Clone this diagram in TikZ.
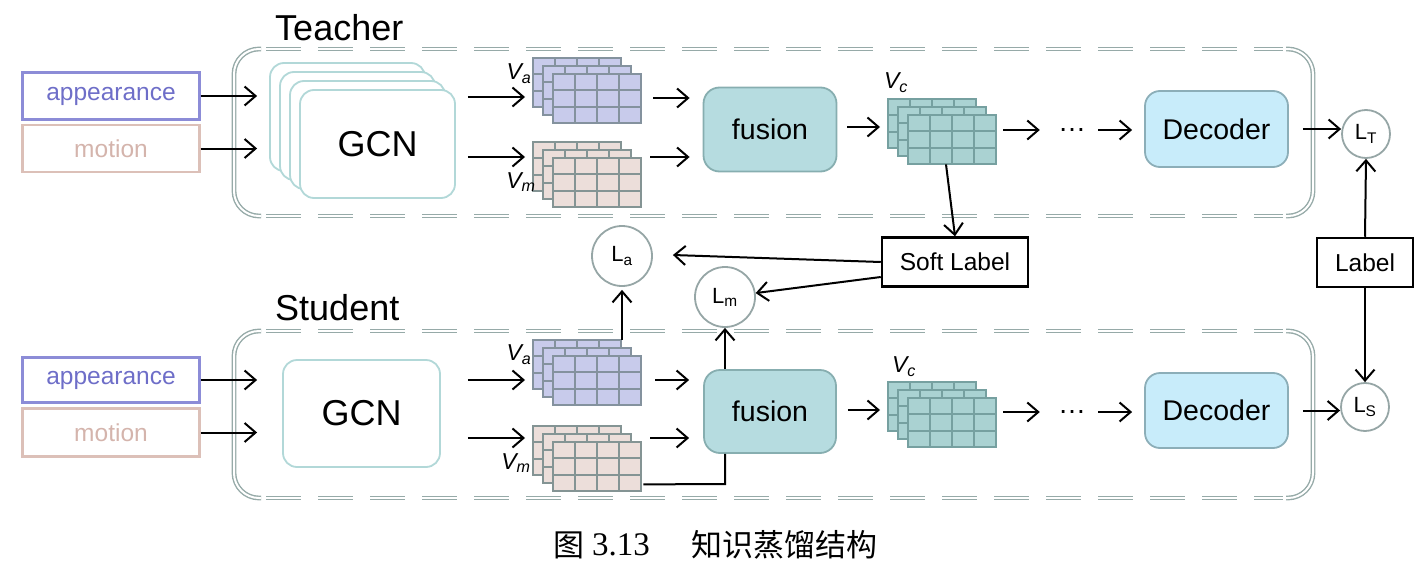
\documentclass[tikz,border=0pt]{standalone}
\usepackage{fontspec}
\setmainfont{Liberation Sans}
\newfontfamily\cjk{Noto Sans CJK SC}
\newfontfamily\serifnum{Liberation Serif}
\usetikzlibrary{arrows.meta,calc}
\definecolor{grpc}{RGB}{150,170,168}
\definecolor{gcnc}{RGB}{178,216,216}
\definecolor{vafill}{RGB}{200,203,235}
\definecolor{vadraw}{RGB}{132,146,158}
\definecolor{vmfill}{RGB}{236,222,218}
\definecolor{vmdraw}{RGB}{132,148,148}
\definecolor{vcfill}{RGB}{170,210,210}
\definecolor{vcdraw}{RGB}{118,160,160}
\definecolor{fusfill}{RGB}{182,220,224}
\definecolor{fusdraw}{RGB}{135,174,176}
\definecolor{decfill}{RGB}{200,236,250}
\definecolor{decdraw}{RGB}{140,174,184}
\definecolor{appdraw}{RGB}{140,140,215}
\definecolor{apptext}{RGB}{110,110,200}
\definecolor{motdraw}{RGB}{220,192,184}
\definecolor{mottext}{RGB}{212,180,172}
\definecolor{circc}{RGB}{150,166,166}
\newcommand\fsz[1]{\fontsize{#1}{#1}\selectfont}
\newcommand\gridstack[5]{%
  \foreach \k in {0,1,2}{%
    \begin{scope}[shift={(#2+10*\k,#3+8*\k)}]
      \filldraw[fill=#4,draw=#5,line width=2pt] (0,0) rectangle (88,49);
      \foreach \i in {22,44,66} \draw[#5,line width=2pt] (\i,0) -- (\i,49);
      \foreach \j in {16.33,32.67} \draw[#5,line width=2pt] (0,\j) -- (88,\j);
    \end{scope}}
  \node[inner sep=0,minimum width=108pt,minimum height=65pt,anchor=north west] (#1) at (#2,#3) {};
}
\newcommand\groupbox[4]{%
  \draw[grp,rounded corners=25pt] (#1+27,#2) -- (#1,#2) -- (#1,#4) -- (#1+27,#4);
  \draw[grp,rounded corners=25pt] (#3-27,#2) -- (#3,#2) -- (#3,#4) -- (#3-27,#4);
  \draw[grp,dash pattern=on 35pt off 17pt] (#1+32,#2) -- (#3-30,#2);
  \draw[grp,dash pattern=on 35pt off 17pt] (#1+32,#4) -- (#3-30,#4);
}
\begin{document}
\begin{tikzpicture}[x=1pt,y=-1pt,
  grp/.style={draw=grpc,line width=1.4pt,double=white,double distance=2pt},
  arr/.style={-{Straight Barb[length=11pt,width=19pt]},line width=2pt},
  ln/.style={line width=2pt},
  inbox/.style={draw,line width=2.2pt,minimum width=177pt,inner sep=0,font=\fsz{24.5}},
  appbox/.style={inbox,draw=appdraw,text=apptext,minimum height=47pt},
  motbox/.style={inbox,draw=motdraw,text=mottext,minimum height=47pt},
  gcnbox/.style={draw=gcnc,fill=white,line width=1.8pt,rounded corners=14pt,minimum width=155pt,minimum height=108pt,inner sep=0,font=\fsz{36}},
  fusbox/.style={draw=fusdraw,fill=fusfill,line width=1.8pt,rounded corners=16pt,minimum width=133pt,minimum height=84pt,inner sep=0,font=\fsz{28.5}},
  decbox/.style={draw=decdraw,fill=decfill,line width=1.8pt,rounded corners=15pt,minimum width=143pt,minimum height=76pt,inner sep=0,font=\fsz{28.5}},
  lossc/.style={circle,draw=circc,fill=white,line width=1.8pt,inner sep=0,font=\fsz{22}},
  lblbox/.style={draw=black,fill=white,line width=2.5pt,minimum height=49pt,inner sep=0,font=\fsz{24.5}},
  ttl/.style={anchor=base west,inner sep=0,font=\fsz{36}},
  vlab/.style={inner sep=0,font=\fsz{23}\itshape},
  dots/.style={inner sep=0,font=\fsz{28}},
]
\useasboundingbox (0,0) rectangle (1424,570);

% ---------------- Teacher ----------------
\node[ttl] (tttl) at (275,40) {Teacher};
\groupbox{234}{49}{1313}{216}

\node[appbox] (tapp) at (111,96) {appearance};
\node[motbox] (tmot) at (111,148.5) {motion};

\foreach \k in {0,1,2} \node[gcnbox] (tg\k) at (347.5+10*\k,117+9*\k) {};
\node[gcnbox] (tgcn) at (377.5,144) {GCN};

\gridstack{tva}{533}{58}{vafill}{vadraw}
\gridstack{tvm}{533}{142}{vmfill}{vmdraw}
\gridstack{tvc}{888}{99}{vcfill}{vcdraw}
\node[vlab] (tval) at (519,74) {V\textsubscript{a}};
\node[vlab] (tvml) at (521,182) {V\textsubscript{m}};
\node[vlab] (tvcl) at (896,83) {V\textsubscript{c}};

\node[fusbox] (tfus) at (770,129.5) {fusion};
\node[dots] (tdots) at (1072,130) {…};
\node[decbox] (tdec) at (1216.5,129) {Decoder};
\node[lossc,minimum size=48pt] (LT) at (1366,134) {L\textsubscript{T}};

\draw[arr,shorten >=42pt] (tapp.east) -- (tgcn.west |- tapp.east);
\draw[arr,shorten >=42pt] (tmot.east) -- (tgcn.west |- tmot.east);
\draw[arr,shorten <=12pt,shorten >=8pt] (tgcn.east |- 0,97) -- (tva.west |- 0,97);
\draw[arr,shorten <=12pt,shorten >=8pt] (tgcn.east |- 0,157) -- (tvm.west |- 0,157);
\draw[arr,shorten <=12pt,shorten >=13pt] (tva.east |- 0,98) -- (tfus.west |- 0,98);
\draw[arr,shorten <=9pt,shorten >=13pt] (tvm.east |- 0,157) -- (tfus.west |- 0,157);
\draw[arr,shorten <=10pt,shorten >=8pt] (tfus.east |- 0,127) -- (tvc.west |- 0,127);
\draw[arr,shorten <=7pt,shorten >=18pt] (tvc.east |- tdots) -- (tdots.west);
\draw[arr,shorten <=12pt,shorten >=12pt] (tdots.east) -- (tdec.west |- tdots);
\draw[arr,shorten <=14pt] (tdec.east) -- (LT.west |- tdec.east);

% ---------------- middle ----------------
\node[lblbox,minimum width=146pt] (soft) at (955,262) {Soft Label};
\node[lblbox,minimum width=96pt] (label) at (1365,262.5) {Label};
\node[lossc,minimum size=60pt] (La) at (622,256) {L\textsubscript{a}};
\node[lossc,minimum size=60pt] (Lm) at (725,297) {L\textsubscript{m}};

\draw[arr] ($(tvc.south west)+(58,0)$) -- (soft.north);
\draw[arr] (soft.west) -- ($(La.east)+(20,-1)$);
\draw[arr] ($(soft.west)+(0,15)$) -- (Lm);
\draw[arr] (label.north) -- (LT.south);

% ---------------- Student ----------------
\node[ttl] (sttl) at (275,320) {Student};
\groupbox{234}{331}{1313}{498}

\node[appbox,minimum height=45pt] (sapp) at (111,380) {appearance};
\node[motbox,minimum height=48pt] (smot) at (111,432.5) {motion};
\node[gcnbox,minimum width=157pt,minimum height=107pt] (sgcn) at (361.5,413.5) {GCN};

\gridstack{sva}{533}{340}{vafill}{vadraw}
\gridstack{svm}{533}{426}{vmfill}{vmdraw}
\gridstack{svc}{888}{382}{vcfill}{vcdraw}
\node[vlab] (sval) at (519,355) {V\textsubscript{a}};
\node[vlab] (svml) at (516,463) {V\textsubscript{m}};
\node[vlab] (svcl) at (904,367) {V\textsubscript{c}};

\node[fusbox,minimum width=132pt,minimum height=83pt] (sfus) at (770,411.5) {fusion};
\node[dots] (sdots) at (1072,412) {…};
\node[decbox,minimum height=75pt] (sdec) at (1216.5,410.5) {Decoder};
\node[lossc,minimum size=48pt] (LS) at (1365,407) {L\textsubscript{S}};

\draw[arr,shorten >=25pt] (sapp.east) -- (sgcn.west |- sapp.east);
\draw[arr,shorten >=25pt] (smot.east) -- (sgcn.west |- smot.east);
\draw[arr,shorten <=27pt,shorten >=8pt] (sgcn.east |- 0,380) -- (sva.west |- 0,380);
\draw[arr,shorten <=27pt,shorten >=8pt] (sgcn.east |- 0,438) -- (svm.west |- 0,438);
\draw[arr,shorten <=14pt,shorten >=14pt] (sva.east |- 0,380) -- (sfus.west |- 0,380);
\draw[arr,shorten <=9pt,shorten >=14pt] (svm.east |- 0,438) -- (sfus.west |- 0,438);
\draw[arr,shorten <=11pt,shorten >=8pt] (sfus.east |- 0,410) -- (svc.west |- 0,410);
\draw[arr,shorten <=7pt,shorten >=18pt] (svc.east |- sdots) -- (sdots.west);
\draw[arr,shorten <=12pt,shorten >=12pt] (sdots.east) -- (sdec.west |- sdots);
\draw[arr,shorten <=14pt] (sdec.east) -- (LS.west |- sdec.east);

\draw[arr,shorten >=3pt] (La |- sva.north) -- (La.south);
\draw[arr] (Lm |- sfus.north) -- (Lm.south);
\draw[ln] ($(svm.south east)+(2,-7)$) -- (Lm |- 0,484) -- (Lm |- sfus.south);
\draw[arr] (label.south) -- (LS.north);

% ---------------- caption ----------------
\node[inner sep=0,font=\cjk\fsz{31}] (cap1) at (569,545) {图};
\node[inner sep=0,anchor=west,font=\serifnum\fsz{33}] (cap2) at (592,545) {3.13};
\node[inner sep=0,anchor=west,font=\cjk\fsz{31}] (cap3) at (691,545) {知识蒸馏结构};
\end{tikzpicture}
\end{document}
